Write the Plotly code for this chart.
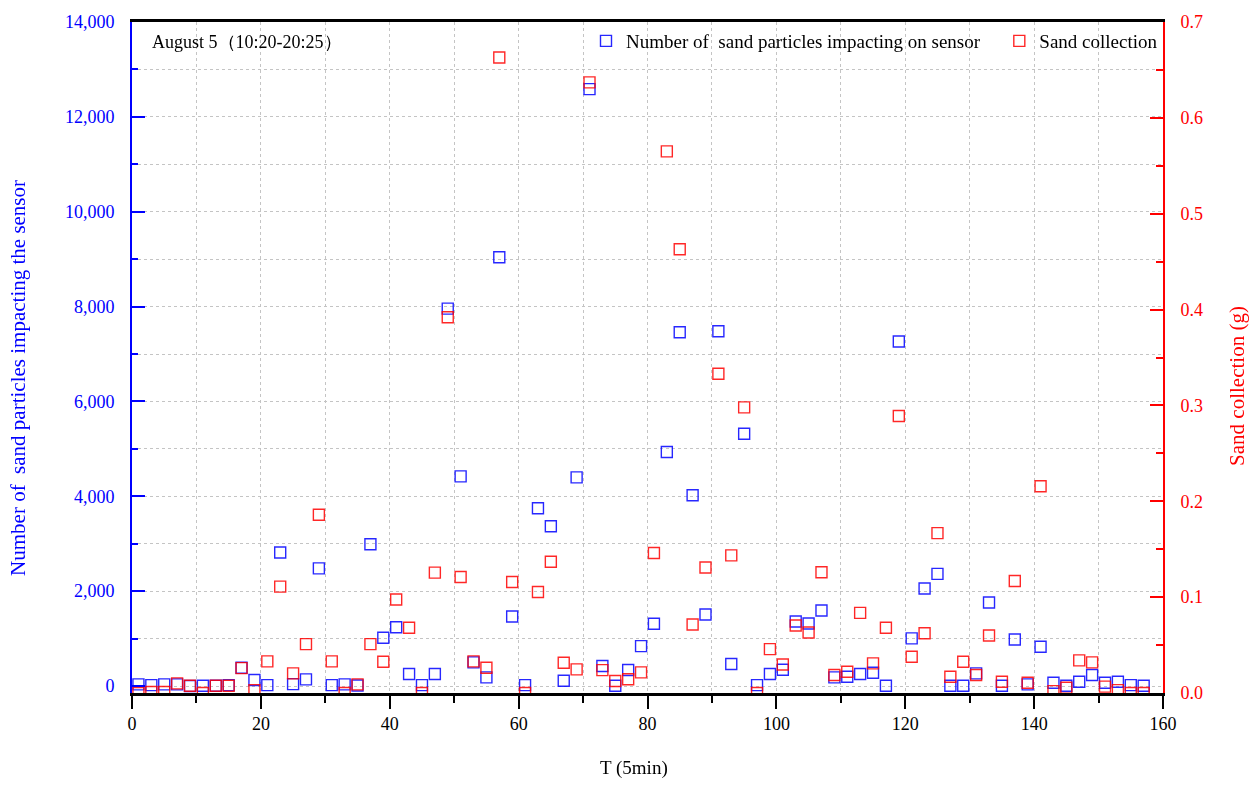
import plotly.graph_objects as go

T = list(range(1, 158, 2))

impacts = [35, 20, 35, 35, 0, 6, 6, 20, 385, 126,
           20, 2815, 40, 140, 2480, 20, 35, 10, 2990, 1017,
           1238, 253, 20, 253, 7958, 4421, 498, 183, 9040, 1467,
           20, 3747, 3368, 112, 4400, 12585, 421, 6, 337, 842,
           1312, 4935, 7460, 4021, 1509, 7480, 463, 5320, 20, 253,
           344, 1362, 1319, 1593, 183, 197, 253, 281, 6, 7265,
           1004, 2056, 2365, 6, 6, 267, 1761, 6, 982, 35,
           828, 70, 6, 91, 232, 70, 91, 20, 6]

sand = [0.0, 0.001, 0.001, 0.010, 0.0076, 0.0, 0.0076, 0.0076, 0.026, 0.003,
        0.033, 0.111, 0.0205, 0.051, 0.186, 0.033, 0.0, 0.009, 0.051, 0.0326,
        0.0975, 0.068, 0.0, 0.1256, 0.392, 0.121, 0.033, 0.0263, 0.663, 0.1158,
        0.0, 0.1054, 0.137, 0.0315, 0.0246, 0.637, 0.0239, 0.0125, 0.0143, 0.0215,
        0.146, 0.565, 0.463, 0.0715, 0.131, 0.333, 0.1436, 0.298, 0.0, 0.0458,
        0.0298, 0.0704, 0.0631, 0.126, 0.0187, 0.0222, 0.0836, 0.0309, 0.068, 0.289,
        0.0378, 0.0624, 0.1668, 0.017, 0.0326, 0.0187, 0.060, 0.0118, 0.1169, 0.0107,
        0.2157, 0.002, 0.0055, 0.034, 0.032, 0.0066, 0.003, 0.0, 0.0]

FONT = "Liberation Serif, Times New Roman, serif"
BLUE = "#0000ff"
RED = "#ff0000"
GRID = "#c4c4c4"

fig = go.Figure()
fig.add_trace(go.Scatter(
    x=T, y=impacts, mode="markers",
    name="Number of  sand particles impacting on sensor   ",
    marker=dict(symbol="square-open", size=11, color=BLUE, line=dict(width=1.4, color=BLUE)),
    opacity=0.85,
))
fig.add_trace(go.Scatter(
    x=T, y=sand, mode="markers", yaxis="y2",
    name="Sand collection",
    marker=dict(symbol="square-open", size=11, color=RED, line=dict(width=1.4, color=RED)),
    opacity=0.85,
))

fig.update_layout(
    width=1255, height=785,
    margin=dict(l=132, r=92, t=20, b=92),
    paper_bgcolor="white", plot_bgcolor="white",
    font=dict(family=FONT, size=18, color="black"),
    showlegend=True,
    legend=dict(orientation="h", x=1.0, xanchor="right", y=1.0, yanchor="top",
                bgcolor="rgba(0,0,0,0)", font=dict(family=FONT, size=19, color="black"),
                itemwidth=30, tracegroupgap=0),
    xaxis=dict(
        range=[0, 160], dtick=20, tick0=0,
        showline=True, linecolor="black", linewidth=2.5, mirror=True,
        ticks="outside", ticklen=13, tickwidth=2, tickcolor="black",
        showgrid=True, gridcolor=GRID, griddash="dot", gridwidth=1,
        zeroline=False,
        minor=dict(dtick=10, ticks="outside", ticklen=7, tickwidth=1.5, tickcolor="black",
                   showgrid=True, gridcolor=GRID, griddash="dot", gridwidth=1),
        tickfont=dict(family=FONT, size=18, color="black"),
    ),
    yaxis=dict(
        range=[-147, 14000], dtick=2000, tick0=0, tickformat=",",
        showline=True, linecolor=BLUE, linewidth=2,
        ticks="inside", ticklen=13, tickwidth=2, tickcolor=BLUE,
        showgrid=True, gridcolor=GRID, griddash="dot", gridwidth=1,
        zeroline=False,
        minor=dict(dtick=1000, ticks="inside", ticklen=6, tickwidth=1.5, tickcolor=BLUE,
                   showgrid=True, gridcolor=GRID, griddash="dot", gridwidth=1),
        tickfont=dict(family=FONT, size=18, color=BLUE),
        ticklabelstandoff=12,
    ),
    yaxis2=dict(
        overlaying="y", side="right", anchor="x",
        range=[0, 0.7], dtick=0.1, tick0=0, tickformat=".1f",
        showline=True, linecolor=RED, linewidth=2,
        ticks="inside", ticklen=13, tickwidth=2, tickcolor=RED,
        showgrid=False, zeroline=False,
        minor=dict(dtick=0.05, ticks="inside", ticklen=7, tickwidth=1.5, tickcolor=RED, showgrid=False),
        tickfont=dict(family=FONT, size=18, color=RED),
        ticklabelstandoff=12,
    ),
    annotations=[
        dict(text="August 5（10:20-20:25）", xref="paper", yref="paper",
             x=0.017, y=0.9703, xanchor="left", yanchor="middle", showarrow=False,
             font=dict(family=FONT, size=18, color="black")),
        dict(text="Number of  sand particles impacting the sensor", xref="paper", yref="paper",
             x=-0.1106, y=0.4695, xanchor="center", yanchor="middle", textangle=-90,
             showarrow=False, font=dict(family=FONT, size=21, color=BLUE)),
        dict(text="Sand collection (g)", xref="paper", yref="paper",
             x=1.0718, y=0.4577, xanchor="center", yanchor="middle", textangle=-90,
             showarrow=False, font=dict(family=FONT, size=21, color=RED)),
        dict(text="T (5min)", xref="paper", yref="paper",
             x=0.487, y=-0.1114, xanchor="center", yanchor="middle",
             showarrow=False, font=dict(family=FONT, size=19, color="black")),
    ],
)

fig.write_html("out.html")
